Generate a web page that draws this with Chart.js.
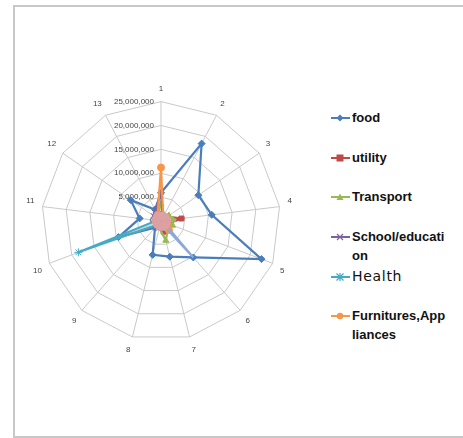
<!DOCTYPE html>
<html>
<head>
<meta charset="utf-8">
<script src="https://cdn.jsdelivr.net/npm/chart.js@4.4.1/dist/chart.umd.min.js"></script>
<style>
  html, body { margin: 0; padding: 0; background: #fff; width: 463px; height: 438px; overflow: hidden; }
  #frame { position: absolute; left: 13px; top: 5px; width: 470px; height: 433px; border: 2px solid #c8c8c8; box-sizing: border-box; }
  #wrap { position: absolute; left: 23px; top: 83px; width: 274px; height: 274px; }
  #legend { position: absolute; left: 331px; top: 108px; width: 130px; font-family: "Liberation Sans", Arial, sans-serif; }
  .item { position: relative; height: 39.7px; }
  .item svg { position: absolute; left: 0; top: 4px; }
  .item span { position: absolute; left: 21px; top: 0; width: 95px; font-weight: bold; font-size: 13px; line-height: 19px; word-break: break-all; color: #111; }
  .item span.plain { font-family: "DejaVu Sans", sans-serif; font-weight: normal; font-size: 14px; letter-spacing: 0.7px; }
</style>
</head>
<body>
<div id="frame"></div>
<div id="wrap"><canvas id="c"></canvas></div>
<div id="legend"></div>
<script>
// Spoke labels and ring values
const categories = ['1','2','3','4','5','6','7','8','9','10','11','12','13'];
const tickValues = [0, 5000000, 10000000, 15000000, 20000000, 25000000];

// Monthly spending per category
const food       = [5900000, 18300000, 9500000, 10700000, 22500000, 10200000, 7700000, 7300000, 1900000, 9500000, 4500000, 7700000, 2700000];
const utility    = [1500000, 1000000, 1600000, 4300000, 1600000, 1500000, 2300000, 1000000, 900000, 900000, 1000000, 1000000, 1200000];
const transport  = [3500000, 1400000, 2000000, 2500000, 2600000, 2200000, 4200000, 1500000, 1000000, 1000000, 1500000, 1000000, 1500000];
const school     = [6000000, 800000, 1000000, 1000000, 1000000, 1200000, 1500000, 1500000, 1200000, 1000000, 1500000, 2000000, 2500000];
const health     = [300000, 200000, 200000, 300000, 300000, 300000, 300000, 300000, 900000, 18500000, 900000, 300000, 300000];
const furniture  = [11200000, 1000000, 1000000, 1500000, 1500000, 2500000, 1000000, 500000, 500000, 500000, 500000, 1000000, 1500000];
const series7    = [500000, 500000, 500000, 500000, 500000, 10200000, 500000, 400000, 400000, 400000, 400000, 400000, 400000];
const series8    = [1200000, 1000000, 1100000, 1300000, 1200000, 1300000, 1300000, 1100000, 1000000, 1000000, 1100000, 1100000, 1200000];

const seriesDefs = [
  { label: 'food', data: food, color: '#4A7EBB', style: 'rectRot', r: 3.5 },
  { label: 'utility', data: utility, color: '#BE4B48', style: 'rect', r: 3.5 },
  { label: 'Transport', data: transport, color: '#98B954', style: 'triangle', r: 3.5 },
  { label: 'School/education', data: school, color: '#7D60A0', style: 'crossRot', r: 3.5 },
  { label: 'Health', data: health, color: '#46AAC5', style: 'star', r: 4 },
  { label: 'Furnitures,Appliances', data: furniture, color: '#F79646', style: 'circle', r: 3.5 },
  { label: 'Series7', data: series7, color: '#8EA9D8', style: 'circle', r: 0, hidden: true },
  { label: 'Series8', data: series8, color: '#DDA0A3', style: 'rect', r: 4.5, hidden: true }
];

const N = seriesDefs.length;
const datasets = seriesDefs.map((s, i) => ({
  label: s.label,
  data: s.data,
  borderColor: s.color,
  backgroundColor: s.color,
  pointBackgroundColor: s.color,
  pointBorderColor: s.color,
  pointStyle: s.style,
  pointRadius: s.r,
  pointBorderWidth: 1,
  borderWidth: 2.2,
  fill: false,
  order: N - i,
  noLegend: !!s.hidden
}));

// Scale values printed to the left of the vertical spoke
const sideTicks = {
  id: 'sideTicks',
  beforeDatasetsDraw(chart) {
    const s = chart.scales.r;
    const ctx = chart.ctx;
    ctx.save();
    ctx.font = '8px "Liberation Sans", Arial, sans-serif';
    ctx.fillStyle = '#444';
    ctx.textAlign = 'right';
    ctx.textBaseline = 'middle';
    tickValues.forEach(v => {
      const d = s.getDistanceFromCenterForValue(v);
      ctx.fillText(v.toLocaleString('en-US'), s.xCenter - 7, s.yCenter - d);
    });
    ctx.restore();
  }
};

const chart = new Chart(document.getElementById('c'), {
  type: 'radar',
  data: { labels: categories, datasets },
  options: {
    responsive: true,
    maintainAspectRatio: false,
    animation: false,
    elements: { line: { tension: 0 } },
    plugins: { legend: { display: false }, tooltip: { enabled: false } },
    scales: {
      r: {
        min: 0,
        max: 25000000,
        ticks: { stepSize: 5000000, display: false },
        grid: { color: '#c9c9c9', lineWidth: 1, circular: false },
        angleLines: { color: '#c9c9c9', lineWidth: 1 },
        pointLabels: { color: '#444', font: { size: 8, family: '"Liberation Sans", Arial, sans-serif' }, padding: 8 }
      }
    }
  },
  plugins: [sideTicks]
});

// Legend built from the chart's datasets
function markerSvg(style, color) {
  let m = '';
  const cx = 9, cy = 6;
  switch (style) {
    case 'rectRot': m = `<polygon points="${cx},${cy-3.5} ${cx+3.5},${cy} ${cx},${cy+3.5} ${cx-3.5},${cy}" fill="${color}"/>`; break;
    case 'rect': m = `<rect x="${cx-3.5}" y="${cy-3.5}" width="7" height="7" fill="${color}"/>`; break;
    case 'triangle': m = `<polygon points="${cx},${cy-3.5} ${cx+3.5},${cy+3} ${cx-3.5},${cy+3}" fill="${color}"/>`; break;
    case 'crossRot': m = `<path d="M${cx-3} ${cy-3}L${cx+3} ${cy+3}M${cx+3} ${cy-3}L${cx-3} ${cy+3}" stroke="${color}" stroke-width="1.2"/>`; break;
    case 'star': m = `<path d="M${cx-3.5} ${cy-3.5}L${cx+3.5} ${cy+3.5}M${cx+3.5} ${cy-3.5}L${cx-3.5} ${cy+3.5}M${cx} ${cy-4}L${cx} ${cy+4}" stroke="${color}" stroke-width="1.2"/>`; break;
    default: m = `<circle cx="${cx}" cy="${cy}" r="3.2" fill="${color}"/>`;
  }
  return `<svg width="19" height="12"><line x1="0" y1="${cy}" x2="19" y2="${cy}" stroke="${color}" stroke-width="2"/>${m}</svg>`;
}
const legendEl = document.getElementById('legend');
chart.data.datasets.filter(d => !d.noLegend).forEach(d => {
  const item = document.createElement('div');
  item.className = 'item';
  const cls = d.label === 'Health' ? ' class="plain"' : '';
  item.innerHTML = markerSvg(d.pointStyle, d.borderColor) + `<span${cls}>${d.label}</span>`;
  legendEl.appendChild(item);
});
</script>
</body>
</html>
